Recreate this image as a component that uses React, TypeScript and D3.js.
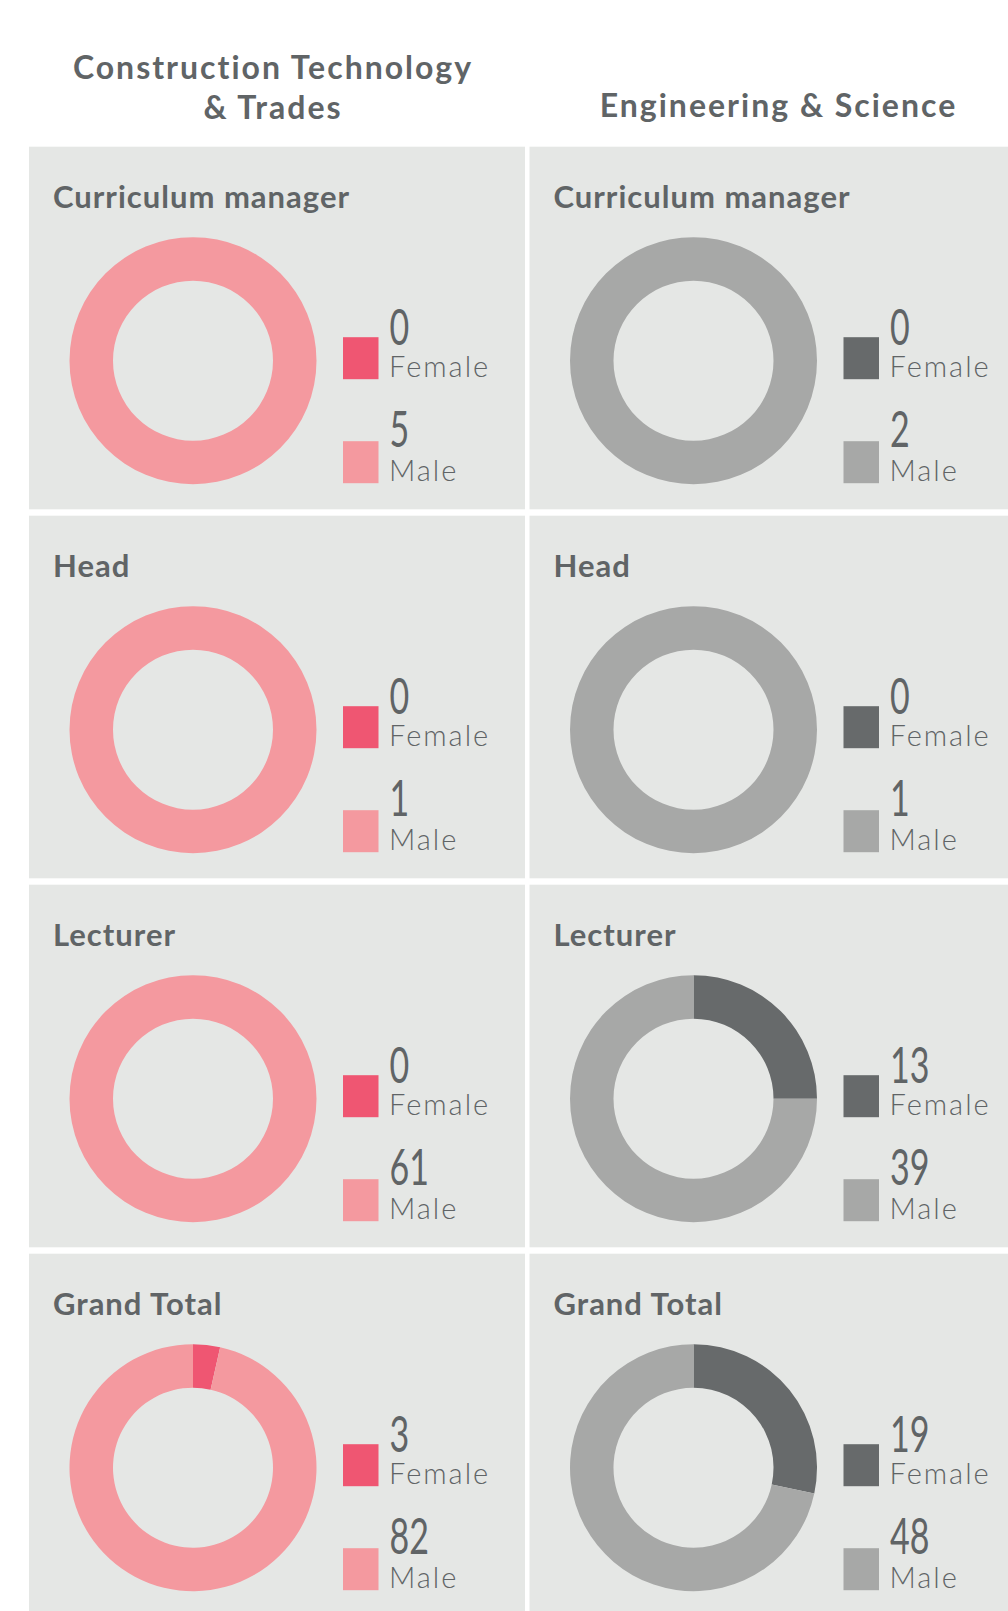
import * as d3 from 'd3'

const departments = ['Construction Technology|& Trades', 'Engineering & Science']
const roles = ['Curriculum manager', 'Head', 'Lecturer', 'Grand Total']
const genders = ['Female', 'Male']

const femaleCTT = [0, 0, 0, 3]
const maleCTT = [5, 1, 61, 82]
const femaleES = [0, 0, 13, 19]
const maleES = [2, 1, 39, 48]

const palettes = [
  ['#ef5672', '#f4999f'],
  ['#676a6b', '#a7a8a7'],
]

const W = 1008
const H = 1611
const TEXT = '#606466'
const PANEL_BG = '#e5e7e5'
const SANS = "Lato, 'Open Sans', sans-serif"

export default function App() {
  const series = [
    { female: femaleCTT, male: maleCTT },
    { female: femaleES, male: maleES },
  ]

  const colX = d3.scaleLinear().domain([0, 1]).range([29, 529.5])
  const rowY = d3.scaleLinear().domain([0, 1]).range([146.7, 515.7])
  const panelW = 496
  const panelH = 362.6

  const pie = d3.pie<number>().sort(null).value((d) => d)
  const arc = d3.arc<d3.PieArcDatum<number>>().innerRadius(80).outerRadius(123.5)

  return (
    <svg width={W} height={H} style={{ position: 'absolute', left: 0, top: 0, display: 'block', background: '#fff' }}>
      {departments.map((dep, c) => {
        const lines = dep.split('|')
        const cx = colX(c) + panelW / 2 - (c === 0 ? 4 : -1)
        const y0 = lines.length > 1 ? 78.5 : 116.5
        return (
          <text key={dep} x={cx} textAnchor="middle" fill={TEXT} fontFamily={SANS} fontWeight={700} fontSize={32} letterSpacing={2}>
            {lines.map((l, i) => (
              <tspan key={l} x={cx} y={y0 + i * 40}>{l}</tspan>
            ))}
          </text>
        )
      })}

      {departments.map((dep, c) =>
        roles.map((role, r) => {
          const px = colX(c)
          const py = rowY(r)
          const values = [series[c].female[r], series[c].male[r]]
          const dcx = px + 164
          const dcy = py + 214
          const arcs = pie(values)
          const lx = px + 314
          return (
            <g key={dep + role}>
              <rect x={px} y={py} width={panelW} height={panelH} fill={PANEL_BG} />
              <text x={px + 24} y={py + 61} fill={TEXT} fontFamily={SANS} fontWeight={700} fontSize={31} letterSpacing={1}>
                {role}
              </text>
              {arcs.map((a, i) => (a.value > 0 ? <path key={i} d={arc(a) ?? ''} transform={`translate(${dcx},${dcy})`} fill={palettes[c][i]} /> : null))}
              {genders.map((g, i) => {
                const off = i * 104
                return (
                  <g key={g}>
                    <rect x={lx} y={dcy - 23.5 + off} width={35.5} height={42} fill={palettes[c][i]} />
                    <text transform={`translate(${lx + 46.5},${dcy - 16 + i * 102.5}) scale(0.68,1)`} fill={TEXT} fontFamily={SANS} fontSize={50} fontWeight={400}>
                      {values[i]}
                    </text>
                    <text x={lx + 46} y={dcy + 16.5 + off} fill={TEXT} fontFamily={SANS} fontWeight={300} fontSize={29} letterSpacing={2}>
                      {g}
                    </text>
                  </g>
                )
              })}
            </g>
          )
        })
      )}
    </svg>
  )
}
